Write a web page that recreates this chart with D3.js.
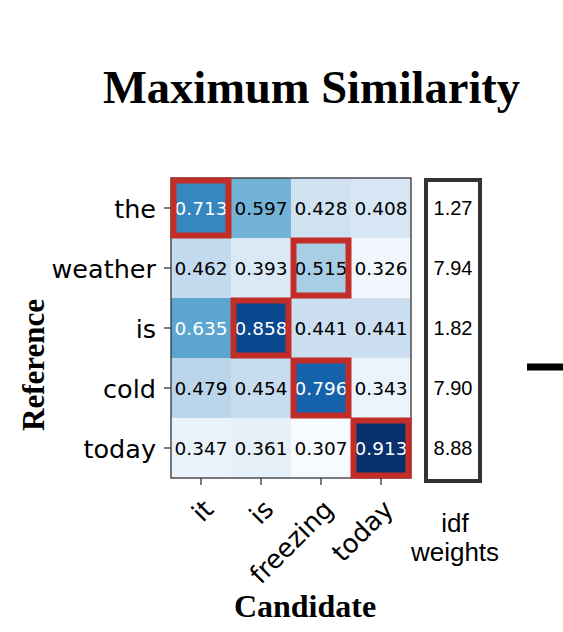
<!DOCTYPE html>
<html>
<head>
<meta charset="utf-8">
<script src="https://cdn.jsdelivr.net/npm/d3@7"></script>
<style>
  body { margin: 0; background: #fff; }
  svg { display: block; }
</style>
</head>
<body>
<svg id="chart"></svg>
<script>
// Data
const candidates = ["it", "is", "freezing", "today"];
const references = ["the", "weather", "is", "cold", "today"];
const similarity = [
  [0.713, 0.597, 0.428, 0.408],
  [0.462, 0.393, 0.515, 0.326],
  [0.635, 0.858, 0.441, 0.441],
  [0.479, 0.454, 0.796, 0.343],
  [0.347, 0.361, 0.307, 0.913]
];
const idfWeights = [1.27, 7.94, 1.82, 7.90, 8.88];

// Constant Values
const width = 563;
const height = 632;
const grid = { left: 171, right: 411, top: 178, bottom: 478 };
const blues = ["#f7fbff", "#deebf7", "#c6dbef", "#9ecae1", "#6baed6",
               "#4292c6", "#2171b5", "#08519c", "#08306b"];

const svg = d3.select("#chart")
    .attr("width", width)
    .attr("height", height);

// Scales
const xScale = d3.scaleBand()
    .domain(candidates)
    .range([grid.left, grid.right]);

const yScale = d3.scaleBand()
    .domain(references)
    .range([grid.top, grid.bottom]);

const flat = similarity.flat();
const vMin = d3.min(flat), vMax = d3.max(flat);
const color = d3.scaleLinear()
    .domain(blues.map((c, i) => vMin + i * (vMax - vMin) / (blues.length - 1)))
    .range(blues);

const cells = [];
references.forEach((r, i) => candidates.forEach((c, j) => {
    cells.push({ ref: r, cand: c, value: similarity[i][j], row: i });
}));

// Heatmap cells
svg.append("g").selectAll("rect")
    .data(cells)
    .enter()
    .append("rect")
    .attr("x", d => xScale(d.cand))
    .attr("y", d => yScale(d.ref))
    .attr("width", xScale.bandwidth())
    .attr("height", yScale.bandwidth())
    .attr("fill", d => color(d.value));

// Cell values
svg.append("g").selectAll("text")
    .data(cells)
    .enter()
    .append("text")
    .attr("x", d => xScale(d.cand) + xScale.bandwidth() / 2)
    .attr("y", d => yScale(d.ref) + yScale.bandwidth() / 2)
    .attr("dy", "0.37em")
    .attr("text-anchor", "middle")
    .attr("font-family", "DejaVu Sans")
    .attr("font-size", 18.5)
    .attr("fill", d => (d.value - vMin) / (vMax - vMin) > 0.5 ? "#fff" : "#000")
    .text(d => d.value.toFixed(3));

// Frame
svg.append("rect")
    .attr("x", grid.left)
    .attr("y", grid.top)
    .attr("width", grid.right - grid.left)
    .attr("height", grid.bottom - grid.top)
    .attr("fill", "none")
    .attr("stroke", "#333")
    .attr("stroke-width", 1.3);

// Red boxes on the row maxima
const maxCells = references.map((r, i) => ({
    ref: r, cand: candidates[d3.maxIndex(similarity[i])]
}));
svg.append("g").selectAll("rect")
    .data(maxCells)
    .enter()
    .append("rect")
    .attr("x", d => xScale(d.cand) + 2.5)
    .attr("y", d => yScale(d.ref) + 2.5)
    .attr("width", xScale.bandwidth() - 5)
    .attr("height", yScale.bandwidth() - 5)
    .attr("fill", "none")
    .attr("stroke", "#c22d28")
    .attr("stroke-width", 6);

// Axes
const yAxis = svg.append("g")
    .attr("transform", `translate(${grid.left}, 0)`)
    .call(d3.axisLeft(yScale).tickSize(7).tickPadding(8));

const xAxis = svg.append("g")
    .attr("transform", `translate(0, ${grid.bottom})`)
    .call(d3.axisBottom(xScale).tickSize(7));

[xAxis, yAxis].forEach(ax => {
    ax.select(".domain").remove();
    ax.selectAll(".tick line").attr("stroke", "#333").attr("stroke-width", 1.3);
    ax.selectAll(".tick text")
        .attr("font-family", "DejaVu Sans")
        .attr("font-size", 25.5)
        .attr("fill", "#000");
});
yAxis.selectAll(".tick text").attr("dy", "0.38em");
xAxis.selectAll(".tick text")
    .attr("x", 0)
    .attr("y", 0)
    .attr("dy", 0)
    .attr("font-size", 26)
    .attr("text-anchor", "end")
    .attr("transform", "translate(14, 33) rotate(-45)");

// idf weights column
svg.append("rect")
    .attr("x", 426)
    .attr("y", 180)
    .attr("width", 54)
    .attr("height", 301)
    .attr("fill", "none")
    .attr("stroke", "#333")
    .attr("stroke-width", 4);

svg.append("g").selectAll("text")
    .data(idfWeights)
    .enter()
    .append("text")
    .attr("x", 453)
    .attr("y", (d, i) => yScale(references[i]) + yScale.bandwidth() / 2)
    .attr("dy", "0.36em")
    .attr("text-anchor", "middle")
    .attr("font-family", "Liberation Sans")
    .attr("font-size", 20)
    .text(d => d.toFixed(2));

svg.append("text")
    .attr("x", 454)
    .attr("text-anchor", "middle")
    .attr("font-family", "Liberation Sans")
    .attr("font-size", 26)
    .selectAll("tspan")
    .data(["idf", "weights"])
    .enter()
    .append("tspan")
    .attr("x", 455)
    .attr("y", (d, i) => 532 + i * 28.5)
    .text(d => d);

// Title and axis titles
svg.append("text")
    .attr("x", 311.5)
    .attr("y", 103)
    .attr("text-anchor", "middle")
    .attr("font-family", "Liberation Serif")
    .attr("font-weight", "bold")
    .attr("font-size", 46.5)
    .text("Maximum Similarity");

svg.append("text")
    .attr("transform", "translate(44, 365) rotate(-90)")
    .attr("text-anchor", "middle")
    .attr("font-family", "Liberation Serif")
    .attr("font-weight", "bold")
    .attr("font-size", 31)
    .text("Reference");

svg.append("text")
    .attr("x", 305)
    .attr("y", 617)
    .attr("text-anchor", "middle")
    .attr("font-family", "Liberation Serif")
    .attr("font-weight", "bold")
    .attr("font-size", 32)
    .text("Candidate");

// Minus sign cut at the right edge
svg.append("line")
    .attr("x1", 527)
    .attr("x2", width)
    .attr("y1", 367)
    .attr("y2", 367)
    .attr("stroke", "#000")
    .attr("stroke-width", 7);
</script>
</body>
</html>
